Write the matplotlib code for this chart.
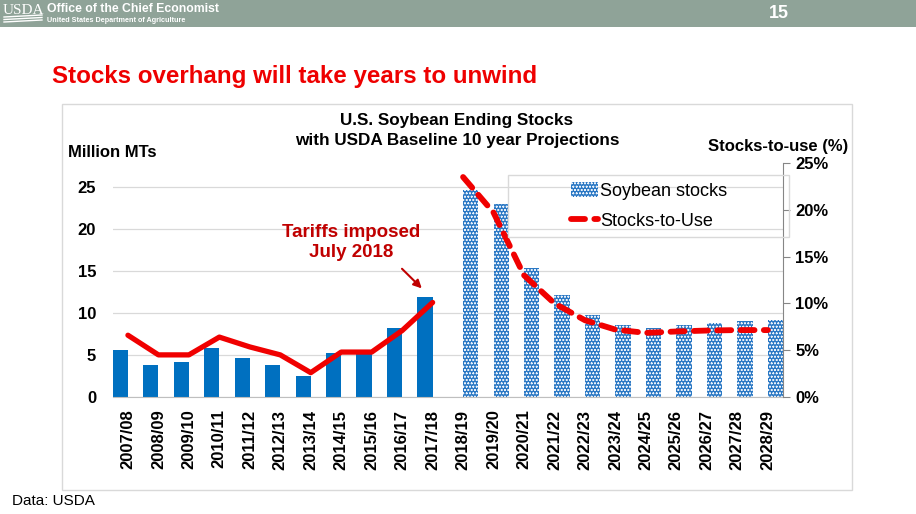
import matplotlib
matplotlib.use("Agg")
import matplotlib.pyplot as plt
from matplotlib.patches import Patch, Rectangle
from matplotlib.lines import Line2D
from matplotlib.ticker import PercentFormatter
import numpy as np

plt.rcParams["font.family"] = ["Liberation Sans", "DejaVu Sans"]
plt.rcParams["hatch.linewidth"] = 0.4

# marketing years
years = ["2007/08", "2008/09", "2009/10", "2010/11", "2011/12", "2012/13",
         "2013/14", "2014/15", "2015/16", "2016/17", "2017/18",
         "2018/19", "2019/20", "2020/21", "2021/22", "2022/23", "2023/24",
         "2024/25", "2025/26", "2026/27", "2027/28", "2028/29"]
# ending stocks, million MT
hist_stocks = [5.58, 3.76, 4.11, 5.85, 4.61, 3.83, 2.50, 5.19, 5.35, 8.21, 11.92]
proj_stocks = [24.7, 23.0, 15.3, 12.1, 9.8, 8.6, 8.25, 8.6, 8.8, 9.0, 9.2]
# stocks-to-use, %
hist_stu = [6.6, 4.5, 4.5, 6.4, 5.35, 4.5, 2.6, 4.8, 4.8, 7.1, 10.1]
proj_stu = [23.5, 19.7, 13.0, 10.0, 8.2, 7.2, 6.85, 7.0, 7.1, 7.15, 7.15]

BLUE = "#0070c0"
PROJ_BLUE = "#2a78c4"
RED = "#f00000"
DARKRED = "#c00000"

fig = plt.figure(figsize=(9.16, 5.14), dpi=100)
W, H = 916, 514


def fx(px):
    return px / W


def fy(py):
    return 1 - py / H


# header bar
fig.patches.append(Rectangle((0, fy(27)), 1, 27 / H, transform=fig.transFigure,
                             facecolor="#8fa398", edgecolor="none", zorder=-5))
fig.text(fx(3), fy(10), "USDA", color="white", fontsize=11,
         family=["Liberation Serif"], va="center", ha="left")
for k in range(3):
    fig.add_artist(Line2D([fx(4), fx(42)], [fy(17 + 2.5 * k), fy(15 + 2.5 * k)],
                          transform=fig.transFigure, color="white", lw=1.0))
fig.text(fx(47), fy(9), "Office of the Chief Economist", color="white",
         fontsize=8.8, fontweight="bold", va="center", ha="left")
fig.text(fx(47), fy(21), "United States Department of Agriculture", color="white",
         fontsize=5.2, fontweight="bold", va="center", ha="left")
fig.text(fx(779), fy(14), "15", color="white", fontsize=13, fontweight="bold",
         va="center", ha="center")

# slide title
fig.text(fx(52), fy(77), "Stocks overhang will take years to unwind", color="#ee0000",
         fontsize=17.4, fontweight="bold", va="center", ha="left")

# chart frame
fig.patches.append(Rectangle((fx(62), fy(490)), (852 - 62) / W, (490 - 104) / H,
                             transform=fig.transFigure, facecolor="none",
                             edgecolor="#d9d9d9", lw=1.0, zorder=-5))

ax = fig.add_axes([fx(112.7), fy(397), (783 - 112.7) / W, (397 - 163) / H])
ax2 = ax.twinx()
ax.set_zorder(ax2.get_zorder() - 1)
ax.patch.set_visible(False)

x = np.arange(len(years))
nh = len(hist_stocks)
xh = x[:nh]
xp = x[nh:]

ax.bar(xh - 0.25, hist_stocks, width=0.5, color=BLUE, zorder=2)
ax.bar(xp + 0.25, proj_stocks, width=0.5, facecolor=PROJ_BLUE, edgecolor="#e8f0fa",
       hatch="ooooo", linewidth=0, zorder=2)

ax.set_xlim(-0.5, len(years) - 0.5)
ax.set_ylim(0, 27.86)
ax.set_yticks([0, 5, 10, 15, 20, 25])
ax.yaxis.grid(True, color="#d9d9d9", lw=0.9)
ax.set_axisbelow(True)
ax.tick_params(axis="y", length=0, pad=12, labelsize=12)
ax.set_xticks(x)
ax.set_xticklabels(years, rotation=90, fontsize=12, fontweight="bold")
ax.tick_params(axis="x", length=0, pad=9)
for lab in ax.get_yticklabels():
    lab.set_fontweight("bold")
for s in ["left", "top", "right"]:
    ax.spines[s].set_visible(False)
ax.spines["bottom"].set_color("#bfbfbf")

ax2.plot(xh, hist_stu, color=RED, lw=3.8, solid_joinstyle="round",
         solid_capstyle="round", zorder=3)
ax2.plot(xp, proj_stu, color=RED, lw=4.2, dashes=(2.4, 1.6),
         dash_capstyle="round", zorder=3)
ax2.set_ylim(0, 25)
ax2.set_yticks([0, 5, 10, 15, 20, 25])
ax2.yaxis.set_major_formatter(PercentFormatter(decimals=0))
ax2.tick_params(axis="y", direction="out", length=5, color="#868686", pad=4, labelsize=12)
for lab in ax2.get_yticklabels():
    lab.set_fontweight("bold")
for s in ["left", "top", "bottom"]:
    ax2.spines[s].set_visible(False)
ax2.spines["right"].set_color("#868686")

# chart titles and axis captions
fig.text(fx(457), fy(121), "U.S. Soybean Ending Stocks", fontsize=12.3,
         fontweight="bold", ha="center", va="center")
fig.text(fx(457), fy(141), "with USDA Baseline 10 year Projections", fontsize=12.3,
         fontweight="bold", ha="center", va="center")
fig.text(fx(68), fy(152), "Million MTs", fontsize=12, fontweight="bold",
         ha="left", va="center")
fig.text(fx(848), fy(146), "Stocks-to-use (%)", fontsize=12, fontweight="bold",
         ha="right", va="center")

# annotation
ax.text(7.32, 18.4, "Tariffs imposed\nJuly 2018", color=DARKRED, fontsize=13.5,
        fontweight="bold", ha="center", va="center", linespacing=1.25)
ax.annotate("", xy=(9.71, 12.7), xytext=(8.93, 15.5),
            arrowprops=dict(arrowstyle="-|>", color=DARKRED, lw=1.5,
                            mutation_scale=12))

# legend
fig.patches.append(Rectangle((fx(508), fy(237)), (789 - 508) / W, (237 - 175) / H,
                             transform=fig.transFigure, facecolor="none",
                             edgecolor="#d9d9d9", lw=1.0, zorder=5))
handles = [Patch(facecolor=PROJ_BLUE, edgecolor="#e8f0fa", hatch="ooooo", linewidth=0),
           Line2D([], [], color=RED, lw=4.2, dashes=(2.4, 1.6), dash_capstyle="round")]
fig.legend(handles, ["Soybean stocks", "Stocks-to-Use"], loc="center",
           bbox_to_anchor=(fx(649), fy(206)), frameon=False, fontsize=13,
           handlelength=1.5, handleheight=0.9, handletextpad=0.1, labelspacing=0.7,
           borderpad=0.2)

fig.text(fx(12), fy(501), "Data: USDA", fontsize=11, ha="left", va="center")

fig.savefig("out.png", dpi=100)
